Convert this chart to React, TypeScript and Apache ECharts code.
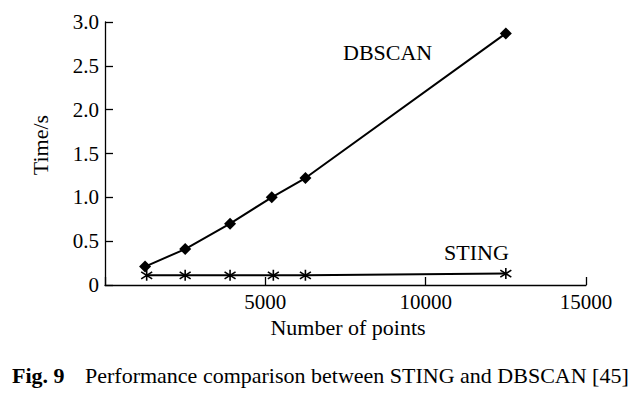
import React, { useEffect, useRef } from "react";
import * as echarts from "echarts";

const dbscanX = [1250, 2500, 3900, 5200, 6250, 12500];
const dbscanY = [0.21, 0.41, 0.7, 1.0, 1.22, 2.87];
const stingX = [1300, 2500, 3900, 5250, 6250, 12500];
const stingY = [0.11, 0.11, 0.11, 0.11, 0.11, 0.13];
const xTicks = [0, 5000, 10000, 15000];
const yTicks = [0, 0.5, 1.0, 1.5, 2.0, 2.5, 3.0];

const FONT = "Liberation Serif";
const ASTERISK = "path://M0,-5L0,5M-4.3,-3.2L4.3,3.2M-4.3,3.2L4.3,-3.2";

export default function App() {
  const ref = useRef<HTMLDivElement>(null);
  useEffect(() => {
    if (!ref.current) return;
    const chart = echarts.init(ref.current, undefined, { renderer: "svg" });
    const axisCommon = {
      axisLine: { show: true, lineStyle: { color: "#000", width: 1.3 } },
      axisTick: { show: true, inside: true, length: 8, lineStyle: { color: "#000", width: 1.3 } },
      splitLine: { show: false },
      axisLabel: { color: "#000", fontFamily: FONT, fontSize: 21, margin: 6 },
    };
    const txt = (text: string, extra: any) => ({
      type: "text",
      ...extra,
      style: {
        text,
        fontFamily: FONT,
        fontSize: 22,
        fill: "#000",
        ...(extra.style || {}),
      },
    });
    chart.setOption({
      animation: false,
      backgroundColor: "#fff",
      grid: { left: 105, right: 54, top: 22, bottom: 111, containLabel: false },
      xAxis: {
        type: "value",
        min: xTicks[0],
        max: xTicks[xTicks.length - 1],
        interval: 5000,
        ...axisCommon,
        axisLabel: {
          ...axisCommon.axisLabel,
          formatter: (v: number) => (v === 0 ? "" : String(v)),
        },
      },
      yAxis: {
        type: "value",
        min: yTicks[0],
        max: yTicks[yTicks.length - 1],
        interval: 0.5,
        ...axisCommon,
        axisLabel: {
          ...axisCommon.axisLabel,
          formatter: (v: number) => (v === 0 ? "0" : v.toFixed(1)),
        },
      },
      series: [
        {
          name: "DBSCAN",
          type: "line",
          data: dbscanX.map((x, i) => [x, dbscanY[i]]),
          symbol: "diamond",
          symbolSize: 12,
          itemStyle: { color: "#000" },
          lineStyle: { color: "#000", width: 2 },
          z: 3,
        },
        {
          name: "STING",
          type: "line",
          data: stingX.map((x, i) => [x, stingY[i]]),
          symbol: ASTERISK,
          symbolSize: [11, 11],
          itemStyle: { color: "transparent", borderColor: "#000", borderWidth: 1.6 },
          lineStyle: { color: "#000", width: 2 },
          z: 3,
        },
      ],
      graphic: [
        txt("DBSCAN", { x: 343, y: 52, style: { align: "left", verticalAlign: "middle" } }),
        txt("STING", { x: 444, y: 252, style: { align: "left", verticalAlign: "middle" } }),
        txt("Time/s", {
          x: 40,
          y: 145,
          rotation: Math.PI / 2,
          style: { align: "center", verticalAlign: "middle" },
        }),
        txt("Number of points", { x: 348, y: 327, style: { align: "center", verticalAlign: "middle" } }),
        txt("Fig. 9", { x: 12, y: 375, style: { align: "left", verticalAlign: "middle", fontWeight: "bold" } }),
        txt("Performance comparison between STING and DBSCAN [45]", {
          x: 85,
          y: 375,
          style: { align: "left", verticalAlign: "middle" },
        }),
      ],
    });
    return () => chart.dispose();
  }, []);
  return (
    <div
      ref={ref}
      style={{ position: "absolute", left: 0, top: 0, width: 640, height: 396 }}
    />
  );
}
